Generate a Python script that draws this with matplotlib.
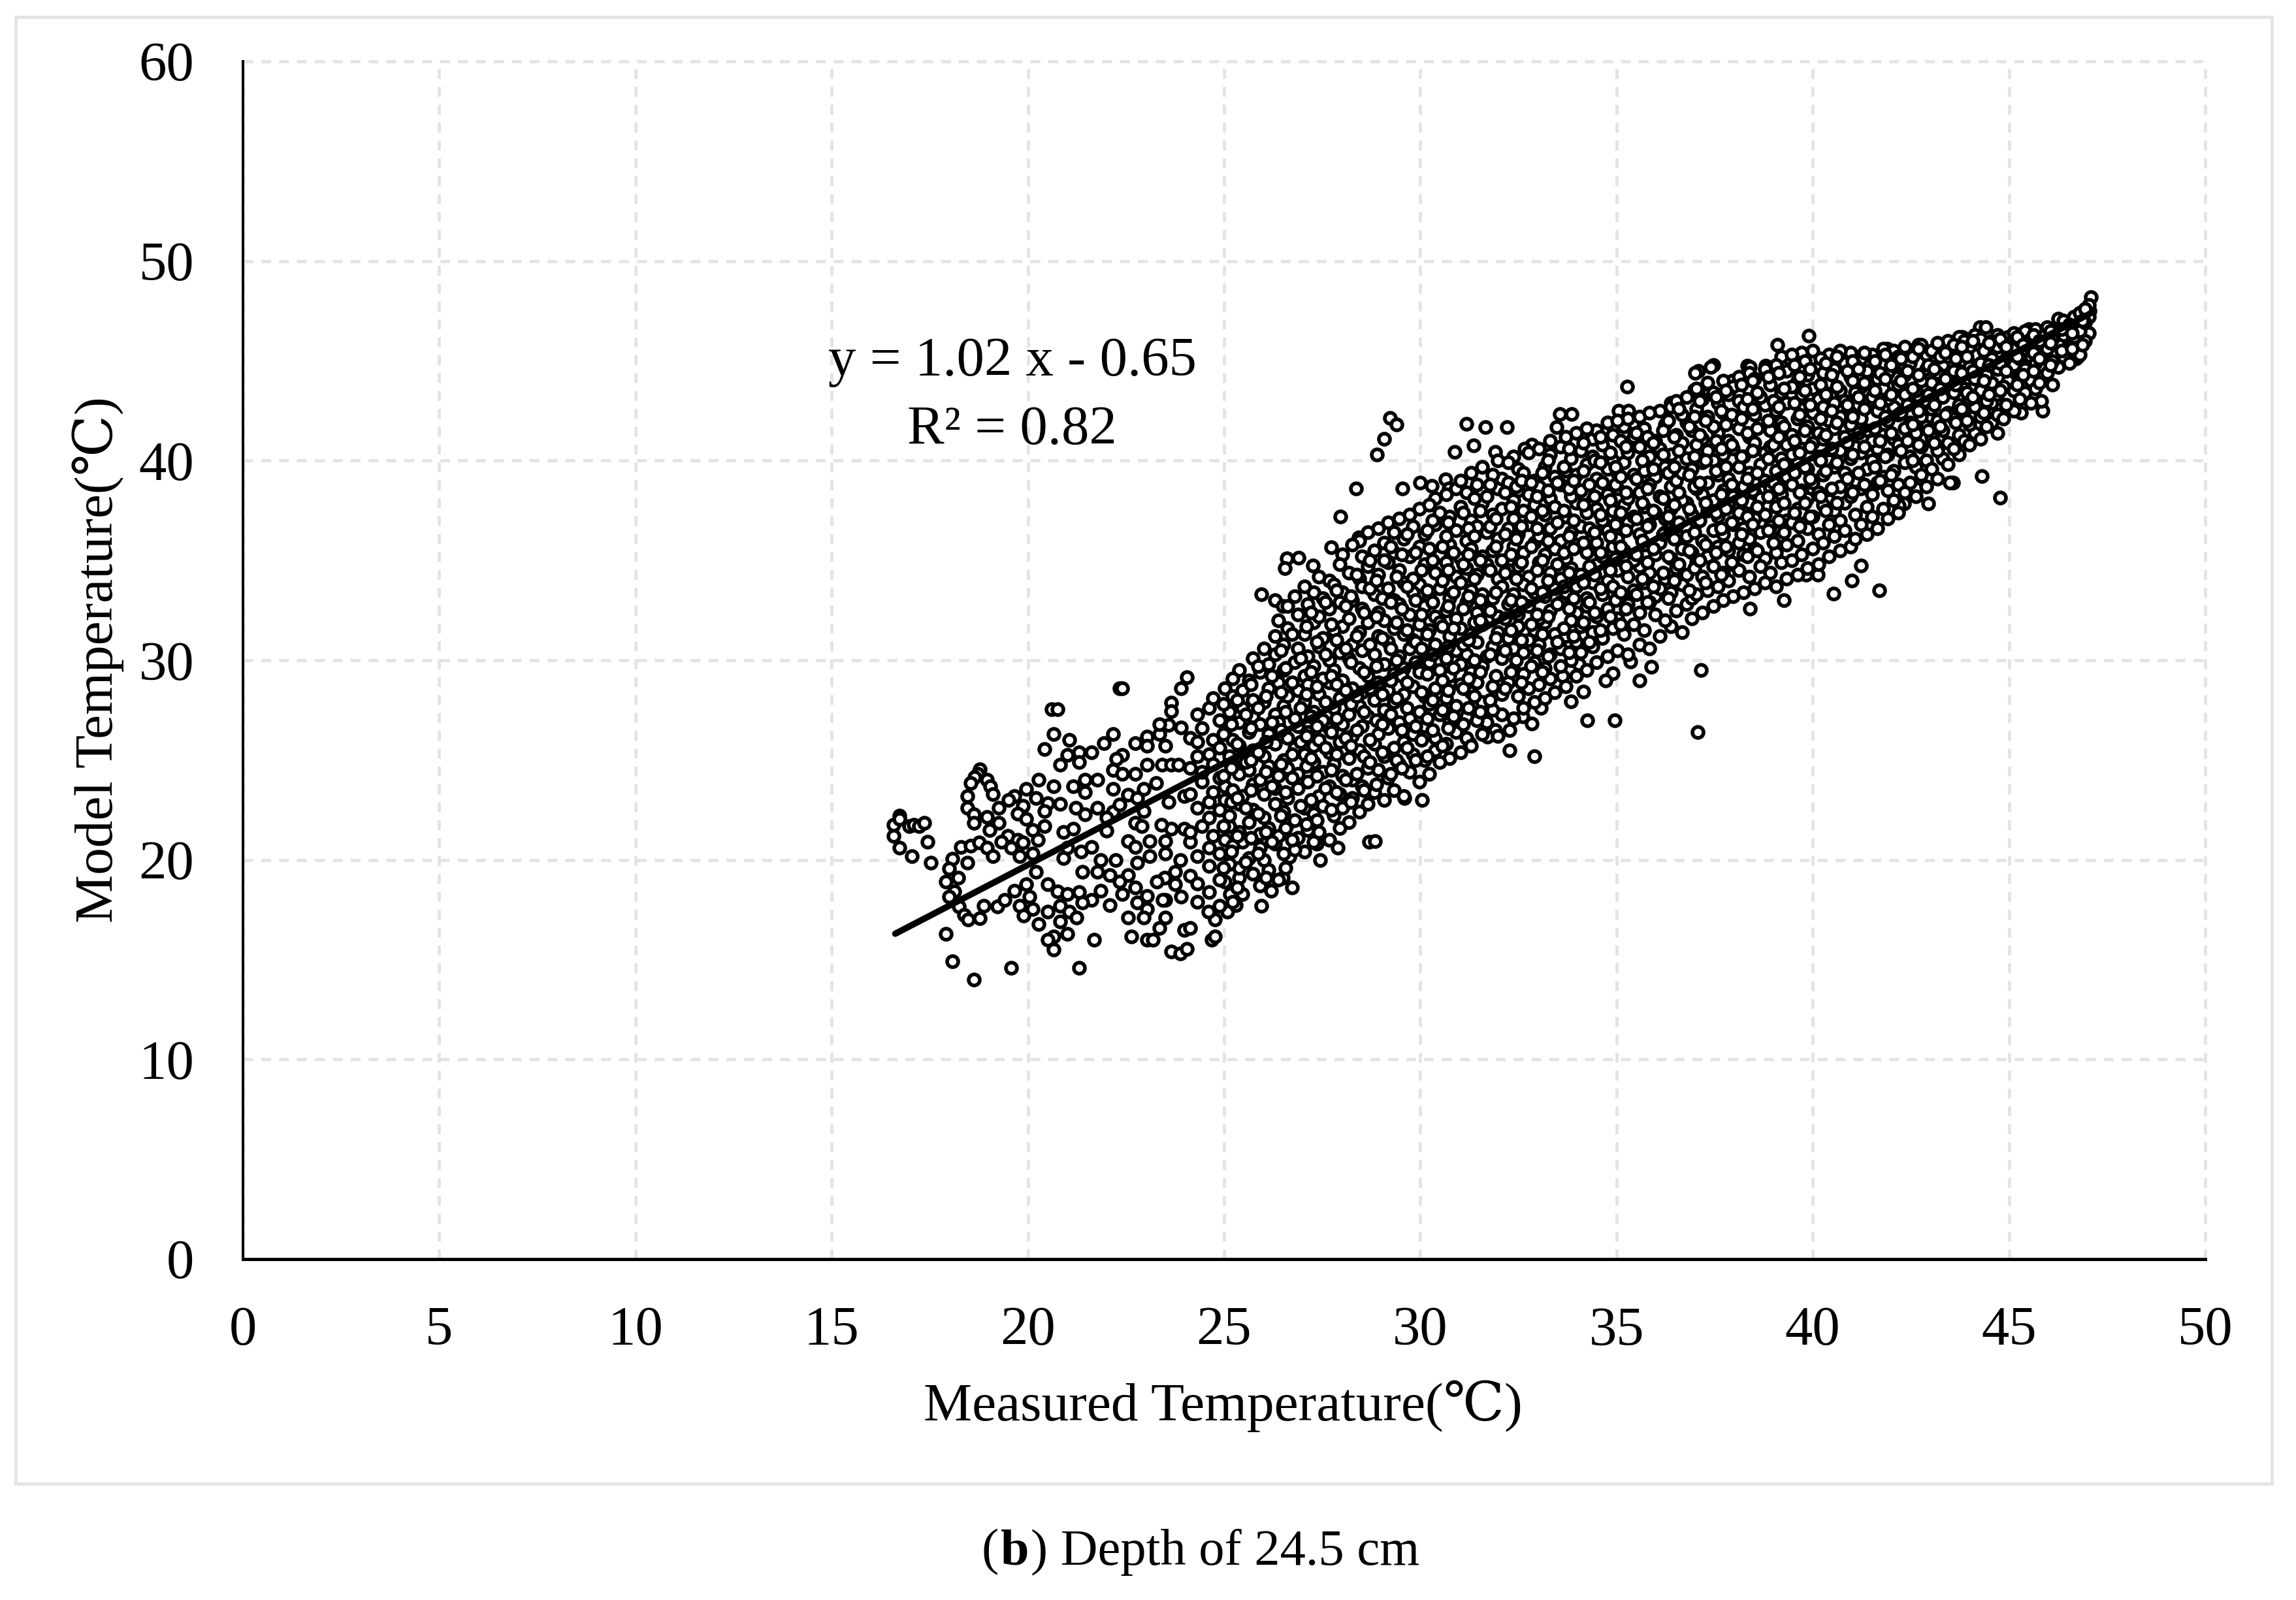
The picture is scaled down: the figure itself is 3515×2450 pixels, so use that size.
import matplotlib
matplotlib.use("Agg")
import matplotlib.pyplot as plt
from matplotlib.patches import Rectangle

x_ticks = [0, 5, 10, 15, 20, 25, 30, 35, 40, 45, 50]
y_ticks = [0, 10, 20, 30, 40, 50, 60]
trend_measured = [16.62, 47.1]
trend_model = [16.3, 47.4]

outliers_low = [
(16.58,21.75),(16.72,22.2),(16.72,22.04),(16.58,21.2),(16.73,20.6),(17.04,20.2),(16.98,21.7),(17.1,21.75),(17.23,21.7),(17.36,21.85),(17.44,20.9),(17.52,19.85),
(18.78,24.55),(18.72,24.3),(18.64,24.13),(18.54,23.84),(18.95,24.0),(19.04,23.67),(19.1,23.3),(18.46,23.2),(18.46,22.6),(18.62,22.27),(18.62,21.84),(18.95,22.15),(19.26,21.84),(19.02,21.5),(19.26,22.6),(19.66,23.2),(19.5,23),(19.96,23.55),(20.27,24.0),(20.66,23.7),(20.2,23.1),(20.5,22.85),(19.87,22.7),(20.42,22.45),(19.74,22.3),(19.96,22.05),(20.83,22.8),(20.42,21.7),(20.13,21.5),(20.9,21.4),(21.15,21.57),
(19.49,21.2),(19.74,21),(19.32,20.9),(19.57,20.6),(19.79,20.2),(20.13,20.3),(19.87,20.87),(20.26,21),
(18.3,20.65),(18.55,20.7),(18.76,20.87),(18.95,20.6),(19.1,20.2),(18.08,20.05),(18.46,19.85),(18,19.55),(18.23,19.1),(17.91,18.9),(18.13,18.43),(18,18.16),(18.25,17.67),(18.38,17.24),(18.47,17),(18.78,17.07),(18.87,17.7),(19.23,17.67),(19.41,18),(19.66,18.46),(19.96,18.78),(20.2,19.4),(20.04,18.16),(19.79,17.7),(20.13,17.55),(19.89,17.2),(20.27,16.78),(20.5,17.4),(20.5,18.78),(20.75,18.43),(20.83,17.7),(21.06,17.4),(20.83,16.9),(21.24,17.1),(21,16.3),(20.66,16.16),(20.5,16),(20.66,15.5),(21.69,16),(17.91,16.3),(18.07,14.93),(18.62,14),(19.57,14.6),(21.3,14.6),
(22.34,28.6),(22.4,28.6),(20.6,27.53),(20.75,27.53),(20.66,26.3),(21.06,26),(20.43,25.55),(21,25.24),(21.3,25.4),(21.62,25.4),(21.93,25.85),(22.17,26.3),(20.83,24.75),(21.3,24.9),(21.15,23.7),(21.45,24),(21.77,24),(21.45,23.4),(22.17,24.5),(22.17,23.55),(22.41,25.24),(22.26,25.06),(22.41,24.3),(22.73,24.3),(22.73,25.85),(23.04,26.17),(23.04,25.7),(23.35,26.3),(23.58,26.75),(23.35,26.8),(23.9,26.64),(24.05,29.14),(23.9,28.6),(23.66,27.86),(23.66,27.45),(23.5,25.7),(23.04,24.77),(23.42,24.75),(23.66,24.75),(23.83,24.75),
(21.22,22.6),(21.45,22.27),(21.77,22.6),(22.17,22.4),(22.33,22.76),(22,22.1),(22.56,23.25),(22.79,23.1),(22.96,23.55),(23.27,23.84),(22.96,22.45),(22.73,21.84),(22.9,21.7),(23.58,22.9),(23.98,23.2),(22,21.45),(21.62,20.65),(21.36,20.4),(20.9,20.1),(21,20.6),(21.86,20),(22.24,20),(21.39,19.4),(21.77,19.4),(22.09,19.24),(22.56,19.24),(22.56,20.93),(22.73,20.64),(22.79,19.85),(23.1,20.93),(23.1,20.2),(23.5,20.93),(23.5,20.3),(23.66,21.57),(23.98,21.55),(23.4,21.74),(23.89,20),(23.75,19.4),
(23.49,19.1),(23.75,18.78),(23.28,18.9),(22.73,18.63),(22.34,18.9),(21.86,18.46),(21.3,18.37),(21,18.3),(21.62,18),(21.39,17.85),(22.09,17.73),(22.41,18.3),(22.79,17.85),(23.04,18.2),(23.04,17.55),(22.56,17.1),(22.96,17.1),(23.5,17.1),(23.35,16.6),(22.64,16.16),(23.04,16),(23.19,16),(23.98,16.5),(24.13,16.6),(23.66,15.4),(23.89,15.3),(24.05,15.55),(24.68,16),(24.76,16.16),(24.76,17),(24.6,17.4),(25.08,17.4),(23.5,18),(23.43,18),(23.9,18.16),(25.15,18.3),(25.3,17.73),(25.95,17.7),(26.2,18.46),(26.73,18.6),(26.5,19.1),(26.67,20.15),(27.45,20),(27.37,20.8),(27.9,20.6),
]
outliers_high = [
(29.23,42.15),(29.39,41.8),(29.07,41.08),(28.9,40.3),(31.18,41.83),(31.66,41.67),(32.2,41.67),(30.88,40.45),(31.35,40.75),(31.9,40.45),(28.37,38.6),(29.54,38.6),(30,38.9),(30.3,38.75),(30.65,39.07),(30.72,38.6),(27.97,37.2),(27.73,35.67),(27.27,34.73),(28.43,36.15),(26.6,35.1),(26.9,35.15),(26.55,34.6),(25.95,33.3),(26.3,33),(26.5,32.7),
(35.27,43.7),(37.08,44.5),(37.47,44.8),(37.95,44),(38.34,44.77),(38.8,44.77),(39.43,45.06),(33.55,42.33),(33.86,42.33),(33.47,41.67),(35.05,42.5),(35.3,42.5),(34.9,41.7),(35.42,41.86),(36.38,42.9),(36.98,43.55),(37.33,43.36),(36.3,42),(32.84,40.8),(32.65,40.6),
(44.77,38.13),(44.3,39.22),(43.58,38.9),(42.65,38.6),(42.94,37.84),(42.32,37.84),(41.23,34.73),(41,33.98),(40.53,33.35),(41.7,33.5),(40.13,34.27),(39.83,34.27),(39.27,33),(38.4,32.57),(37.15,29.5),(37.07,26.4),(35.89,29.66),(35.58,29),(34.9,29.33),(34.72,29),(35.36,29.95),(34.26,27),(34.96,27),(32.6,27.2),(32.84,26.83),(32.28,26.5),(31.9,26.5),(31.7,26.17),(32.28,25.5),(32.9,25.2),(31.25,25.86),(33.63,29.2),(34.03,29.8),(33.83,27.93),(34.16,28.43),(33.07,27.6),(28.7,20.9),(28.85,20.95),(30.05,23),(29.6,23.1),
(47.09,48.2),(47.05,47.5),(46.8,47.3),(39.9,46.25),(39.1,45.8),(38.4,44.7),(37.4,44.7),(37,44.4),(41.2,45.2),(41.9,45.6),(42.7,45.8),(43.8,46.2),(44.25,46.7),(44.4,46.7),(45.5,46.6),(45.75,46.5),(46.4,46.8),(46.7,45.1),(46.75,45.2),(45.85,42.5),(45.3,42.4),(44.7,41.4),(44,41),(43.5,38.9),(42.3,38.7),(42.2,37.75),
]

band_rows = [
(24.14,[19.2,20.9,21.4,23.3,24.6,26.1]),(24.31,[17.9,18.8,20.2,22.6,25.2,25.9,27.3]),(24.43,[21.7,23.9,24.4,26.6]),
(24.62,[18.4,19.7,20.6,22.1,22.9,25.3,27.6]),(24.71,[21.2,23.4,24.8,26.0,28.1]),(24.88,[17.7,19.0,20.3,22.5,24.1,25.6,27.0]),
(25.01,[18.9,21.0,23.0,23.7,26.4,28.6]),(25.13,[19.8,21.7,22.2,24.9,25.2,27.4]),(25.22,[17.9,20.7,23.5,26.0,28.2,29.1]),
(25.39,[19.1,19.6,21.4,22.8,24.3,25.7,26.9,29.5]),(25.47,[18.3,20.9,23.2,25.0,27.6,28.5]),(25.63,[20.1,21.9,24.5,26.4,29.0]),
(25.74,[19.3,22.5,23.8,25.5,27.2,28.0,30.1]),(25.92,[18.7,20.6,21.3,24.0,26.8,29.4]),(26.01,[20.0,22.1,23.3,25.2,27.9,30.6]),
(26.13,[19.5,21.6,24.7,26.3,28.6,29.8]),(26.29,[20.8,22.8,23.6,25.8,27.3,30.3,31.2]),(26.38,[19.0,21.2,24.2,26.9,28.9,32.0]),
(26.52,[20.3,22.4,25.0,27.7,29.5,30.8]),(26.61,[21.8,23.1,24.6,26.1,28.2,31.6,32.7]),(26.79,[20.5,22.0,25.6,27.1,29.9,33.2]),
(26.88,[21.1,23.6,24.3,26.7,28.5,30.6,32.3]),(27.04,[20.4,22.6,25.3,27.9,29.2,31.3,33.7]),(27.13,[21.5,23.9,26.4,28.8,30.2,32.8]),
(27.28,[20.9,22.3,24.9,25.7,27.4,29.7,31.9,33.4]),(27.42,[21.4,23.2,26.0,28.3,30.7,32.2,34.2]),(27.51,[22.7,24.4,27.0,29.1,31.1,33.1]),
(27.68,[21.0,23.7,25.4,26.6,28.9,30.0,32.6,34.0]),(27.79,[22.2,24.8,27.6,29.5,31.5,33.8]),(27.94,[21.6,23.3,25.9,28.1,30.4,32.9,34.8]),
(28.02,[22.6,24.2,26.8,29.0,31.7,33.4,35.3]),(28.18,[21.9,25.1,27.3,30.1,32.1,34.4]),(28.27,[23.1,24.0,26.2,28.6,30.8,33.0,35.8]),
(28.44,[22.4,25.5,27.7,29.6,31.4,34.1,36.0]),(28.51,[23.7,26.7,28.4,30.5,32.6,33.7,35.2]),(28.66,[22.8,24.6,27.2,29.2,31.9,34.7,36.4]),
(28.82,[23.4,25.8,28.0,30.3,33.3,35.5]),(28.93,[24.5,26.3,28.9,31.2,32.4,34.3,36.6]),(29.07,[23.0,25.2,27.5,29.8,32.0,35.0,35.9]),
(29.18,[24.1,26.6,28.5,30.9,33.6,34.9,36.9]),(29.33,[23.5,25.6,27.9,29.3,31.6,33.0,35.4,36.4]),(29.46,[24.8,26.9,30.2,32.8,34.5,37.1]),
(29.57,[23.2,25.9,28.3,29.6,31.3,33.9,36.1]),(29.72,[24.4,27.1,30.6,32.3,35.2,37.3]),(29.81,[25.3,26.3,28.7,31.0,33.4,34.1,36.7]),
(29.97,[23.9,27.4,29.4,31.8,33.8,35.7,37.6]),(30.11,[25.0,26.7,28.2,30.4,32.7,34.8,36.3]),(30.22,[24.3,27.8,29.9,31.5,33.2,35.6,37.8]),
(30.38,[25.5,26.1,28.6,30.8,32.2,34.4,36.8,38.1]),(30.49,[24.9,27.3,29.5,31.9,33.6,35.3,37.4]),(30.66,[25.8,28.1,30.1,32.5,34.9,36.2,38.3]),
(30.74,[25.1,26.9,29.2,31.2,33.1,35.8,37.2]),(30.91,[26.4,27.7,30.5,32.1,34.2,36.5,38.6]),(31.03,[25.4,28.8,29.8,31.6,33.9,35.1,37.7,39.0]),
(31.17,[26.1,27.2,30.3,32.9,34.6,36.0,38.4]),(31.29,[25.7,28.4,29.4,31.3,33.5,35.6,37.0,39.4]),(31.44,[27.0,28.9,30.9,32.4,34.3,36.7,38.8]),
(31.58,[26.3,27.9,29.7,31.8,33.3,35.2,37.9,39.7]),(31.69,[26.9,30.2,32.6,34.8,36.4,38.2]),(31.84,[27.5,28.7,30.7,33.1,35.5,37.3,39.3]),
(31.97,[26.2,29.0,31.4,32.2,34.1,36.1,38.6,40.0]),(32.08,[27.3,28.3,30.1,33.7,35.0,37.6,39.1]),(32.24,[28.9,31.1,32.8,34.5,36.6,38.9,39.9]),
(32.37,[27.1,29.5,30.6,33.3,35.7,37.1,38.0,40.2]),(32.49,[28.2,31.7,32.3,34.7,36.3,38.5,39.6]),(32.63,[27.6,29.3,30.4,33.8,35.4,37.5,39.4]),
(32.76,[28.6,31.0,32.7,34.2,36.8,38.3,40.4]),(32.91,[27.9,29.9,31.5,33.4,35.9,37.8,39.0]),(33.02,[28.8,30.8,32.1,34.9,36.2,38.7,40.6]),
(33.17,[28.1,29.6,31.9,33.2,35.3,37.3,39.7]),(33.31,[29.1,30.3,32.5,34.4,36.6,38.1,40.3,41.0]),(33.42,[28.4,31.3,33.6,35.6,37.7,39.2]),
(33.58,[29.7,30.6,32.9,34.1,36.0,38.8,40.7]),(33.71,[28.7,31.2,33.4,35.1,37.2,39.5,41.2]),(33.83,[30.0,32.0,34.6,36.4,38.2,40.1]),
(33.97,[29.2,30.9,32.4,33.7,35.8,37.9,39.3,41.4]),(34.09,[30.4,31.7,34.3,36.7,38.5,40.5]),(34.23,[29.5,32.7,33.1,35.4,37.4,39.8,41.6]),
(34.38,[30.7,31.4,33.9,36.2,38.0,40.2,41.1]),(34.49,[29.9,32.2,34.8,35.9,37.6,39.1,41.5]),(34.64,[31.1,33.3,35.2,37.0,38.9,40.8]),
(34.77,[30.2,32.6,34.0,36.5,38.3,39.6,41.9]),(34.91,[31.6,33.7,35.7,37.5,40.0,41.3]),(35.02,[30.5,32.1,34.5,36.1,38.6,39.4,42.0]),
(35.18,[31.3,33.0,35.5,37.8,39.9,41.7]),(35.29,[30.3,32.8,34.2,36.9,38.1,40.4,42.1]),(35.44,[31.8,33.5,35.0,37.2,39.3,41.2]),
(35.59,[30.8,32.4,34.7,36.3,38.4,40.7,42.2]),(35.71,[31.5,33.9,35.8,37.7,39.5,41.6]),(35.84,[30.6,32.9,34.4,36.8,38.8,40.2,42.4]),
(35.98,[32.3,33.2,35.3,37.4,39.2,41.0]),(36.11,[31.2,33.6,35.9,38.2,40.6,42.5]),(36.24,[32.0,34.1,36.4,37.1,39.7,41.8]),
(36.39,[31.7,33.4,35.1,37.6,38.7,40.3,42.7]),(36.51,[32.5,34.6,36.7,39.0,41.3,43.0]),(36.66,[31.4,33.8,35.6,38.0,39.4,40.9,42.3]),
(36.79,[32.8,34.3,36.2,37.9,40.1,41.9,43.2]),(36.92,[32.1,33.1,35.4,37.3,39.6,41.5]),(37.03,[33.3,34.9,36.9,38.6,40.8,42.6,43.6]),
(37.19,[32.4,34.2,36.0,38.3,39.9,41.1,43.1]),(37.31,[33.5,35.2,37.5,38.9,40.5,42.2,43.9]),(37.46,[32.7,34.7,36.5,38.0,40.0,41.7,43.4]),
(37.59,[33.7,35.7,37.2,39.3,41.4,42.9]),(37.72,[33.0,34.4,36.3,38.5,40.3,42.4,44.0]),(37.85,[34.0,35.5,37.8,39.1,41.0,43.3]),
(37.97,[33.2,34.8,36.8,38.2,40.6,42.0,43.7]),(38.12,[34.5,35.9,37.4,39.7,41.6,43.0,44.2]),(38.24,[33.4,35.3,36.6,38.7,40.2,42.7]),
(38.39,[34.2,36.1,37.9,39.4,41.2,43.5,44.4]),(38.51,[33.6,35.6,37.1,38.4,40.9,42.3,44.1]),(38.66,[34.7,36.4,38.1,39.8,41.8,43.2]),
(38.78,[33.9,35.1,37.3,39.0,40.4,42.8,44.6]),(38.91,[34.4,36.7,38.6,40.7,41.5,43.8]),(39.06,[33.7,35.4,37.7,39.5,41.0,42.5,44.8]),
(39.19,[34.9,36.2,38.3,40.1,41.9,43.4,45.2]),(39.33,[34.1,35.8,37.0,39.2,40.8,42.9,44.5]),(39.47,[35.0,36.9,38.8,40.3,41.3,43.7,45.3]),
(39.61,[34.3,36.0,37.6,39.9,42.1,44.0]),(39.72,[35.3,37.4,38.5,40.6,42.6,43.3,45.4]),(39.86,[34.6,36.6,38.1,39.6,41.7,44.3]),
(39.99,[35.6,37.2,38.9,40.9,42.4,43.6,45.5]),(40.14,[34.8,36.3,38.4,40.2,41.4,43.1,44.7]),(40.27,[35.9,37.8,39.3,41.1,42.7,44.4]),
(40.41,[35.2,36.8,38.0,40.0,42.0,43.9,45.3]),(40.54,[36.2,37.5,39.7,41.6,42.9,44.6]),(40.69,[35.5,37.0,38.7,40.5,42.2,43.5,45.5]),
(40.81,[36.5,37.9,39.4,41.2,43.0,44.9]),(40.96,[35.7,38.2,40.1,41.8,42.4,44.2,45.4]),(41.08,[36.1,37.3,39.0,40.7,43.4,44.8]),
(41.23,[36.8,38.6,40.4,42.1,43.7,45.1]),(41.37,[36.3,37.7,39.6,41.5,42.8,44.5]),(41.51,[37.2,38.3,40.0,41.0,43.2,45.3]),
(41.64,[36.6,38.9,40.6,42.5,44.1]),(41.79,[37.6,39.2,41.3,43.6,44.9,45.6]),(41.91,[37.1,38.5,40.3,42.0,43.1,44.4]),
(42.06,[38.0,39.5,41.1,42.7,44.7,45.5]),(42.18,[37.4,38.8,40.8,42.3,43.8,45.2]),(42.34,[38.4,39.9,41.6,43.3,44.3,45.7]),
(42.47,[38.9,40.2,41.9,42.9,44.9]),(42.62,[38.2,39.7,41.4,43.5,45.4]),(42.76,[39.3,40.7,42.2,44.0,45.8]),
(42.89,[38.7,40.0,41.7,43.0,44.6,45.3]),(43.03,[39.6,41.2,42.6,43.9,45.5]),(43.17,[39.1,40.5,42.0,44.4,45.9]),
(43.31,[40.1,41.5,43.2,44.8,45.6]),(43.44,[39.8,40.9,42.4,43.7,45.2,46.0]),(43.59,[40.6,42.1,43.4,44.5,45.8]),
(43.72,[40.3,41.3,42.8,44.2,45.4,46.2]),(43.86,[41.0,42.5,43.6,45.0,46.0]),(43.99,[40.8,41.8,43.1,44.7,45.7]),
(44.13,[41.4,42.7,44.1,45.3,46.3]),(44.28,[41.1,42.2,43.5,44.9,46.1]),(44.42,[41.7,43.0,44.3,45.6]),
(44.56,[41.9,42.9,43.9,45.1,46.0]),(44.71,[42.3,43.3,44.6,45.7,46.3]),(44.85,[42.1,43.7,45.0,45.9]),
(44.98,[42.7,44.0,45.3,46.2]),(45.13,[42.5,43.5,44.8,45.6,46.4]),(45.27,[43.1,44.3,45.1,46.0]),
(45.41,[43.4,44.6,45.5,46.5]),(45.56,[42.9,44.0,45.2,46.1]),(45.68,[43.6,44.9,45.8,46.6]),
(45.83,[43.0,44.2,45.4,46.3]),(45.97,[44.4,45.6,46.7]),(46.11,[43.8,45.0,46.1]),
(46.26,[44.7,45.9,46.6,47.1]),(46.39,[45.2,46.3,47.0]),(46.54,[44.9,45.7,46.8]),
(46.66,[45.4,46.2,47.2]),(46.81,[45.3,46.5,47.4]),(46.93,[46.0,46.9,47.6]),(47.04,[46.4,47.2,47.8]),
]
core_rows = [
(24.98,[19.6,21.7,24.2,26.3,27.8]),(25.18,[20.4,22.9,24.6,26.8]),(25.33,[18.6,21.2,23.1,25.8,28.0]),(25.55,[19.9,22.6,24.9,27.3]),
(25.69,[21.1,23.5,25.0,26.6,28.8]),(25.86,[20.3,22.3,25.4,27.6,29.7]),(26.07,[19.1,21.4,24.4,25.9,28.2]),(26.21,[20.9,23.7,26.9,29.2]),
(26.44,[22.2,24.8,26.5,28.4,30.5]),(26.57,[19.6,21.6,23.4,27.4,29.6]),(26.73,[21.0,24.1,25.3,28.9,31.3]),(26.94,[22.7,25.9,27.6,30.1]),
(27.09,[21.8,24.7,26.2,28.3,31.7]),(27.21,[23.0,25.1,27.2,29.4,32.4]),(27.36,[22.0,24.2,26.7,28.7,30.9]),(27.58,[23.6,25.6,27.9,30.3,32.9]),
(27.73,[22.5,24.5,26.4,29.2,31.8]),(27.87,[23.4,25.3,27.1,28.8,31.0,33.5]),(28.09,[24.0,26.1,28.5,30.6,32.7]),(28.23,[22.9,25.7,27.8,29.9,33.2]),
(28.38,[24.3,26.5,28.2,31.2,34.3]),(28.57,[23.5,25.2,27.4,29.4,32.4]),(28.72,[24.9,26.0,28.6,30.8,33.6,35.0]),(28.88,[23.8,27.0,29.7,32.2,34.0]),
(29.02,[25.4,26.8,28.3,31.1,33.1]),(29.24,[24.3,27.3,29.0,30.6,32.9,35.7]),(29.39,[25.0,28.1,30.0,31.9,34.2]),(29.52,[24.6,26.5,29.2,32.6,35.3]),
(29.66,[25.6,27.6,28.9,31.5,33.7,36.3]),(29.88,[25.0,26.7,29.9,30.9,33.0,35.4]),(30.03,[26.0,28.4,30.6,32.3,34.5]),(30.17,[25.2,27.1,29.3,31.3,33.5,36.5]),
(30.31,[26.5,28.0,30.3,32.9,35.0,37.0]),(30.56,[25.7,27.5,29.0,31.7,34.0,35.7]),(30.71,[26.6,28.5,30.7,32.7,34.5,36.9]),(30.84,[27.2,29.6,31.6,33.4,35.4]),
(31.09,[26.8,28.6,30.8,32.6,34.8,37.4]),(31.23,[27.6,29.1,31.0,33.2,35.3,36.6]),(31.37,[28.2,30.0,31.9,34.1,36.2,38.1]),(31.52,[27.4,29.4,32.0,33.0,35.0,37.5]),
(31.78,[28.0,30.3,32.5,34.5,36.7,38.8]),(31.92,[29.2,31.1,33.4,35.7,37.1]),(32.16,[28.6,30.5,32.1,34.4,36.3,38.4]),(32.31,[29.4,31.5,33.0,35.3,37.7]),
(32.44,[30.0,32.5,34.1,36.1,38.7]),(32.57,[28.9,31.0,32.9,34.9,36.7,39.0]),(32.83,[29.7,31.8,33.6,35.7,37.2,38.9]),(32.98,[30.5,32.3,34.5,36.6,38.2]),
(33.11,[29.4,31.3,33.4,35.0,37.5,39.4]),(33.26,[30.2,32.2,34.0,36.0,38.5,40.0]),(33.49,[30.9,32.8,34.8,36.9,38.9]),(33.65,[31.6,33.7,35.4,37.5,39.7]),
(33.78,[30.4,32.6,34.4,36.2,38.6,40.6]),(33.91,[31.2,33.1,35.6,37.0,39.0]),(34.15,[31.9,33.9,35.9,37.8,39.5,40.9]),(34.31,[30.9,32.9,34.7,36.6,38.8]),
(34.44,[32.4,34.3,36.4,38.2,40.0]),(34.58,[31.5,33.6,35.4,37.3,39.9,41.2]),(34.83,[32.2,34.5,36.2,38.0,40.4]),(34.97,[33.0,35.1,36.8,38.8,39.7]),
(35.11,[31.8,33.4,35.7,37.4,39.2,41.0]),(35.24,[32.6,34.7,36.5,38.4,40.7]),(35.51,[33.3,35.3,37.1,39.1,41.4]),(35.66,[34.1,36.0,37.9,40.0]),
(35.79,[32.9,34.9,36.7,38.6,41.2]),(35.93,[33.7,35.6,37.5,39.6,40.9]),(36.18,[34.4,36.3,38.1,40.3,41.5]),(36.32,[33.1,35.2,37.2,39.4,42.0]),
(36.47,[34.0,36.1,37.8,39.7,41.2]),(36.59,[34.8,36.9,38.4,40.5,42.6]),(36.85,[33.5,35.5,37.6,39.3,41.7]),(36.99,[34.6,36.4,38.7,40.2,42.2]),
(37.12,[35.0,37.0,38.9,41.3,43.0]),(37.26,[33.9,35.8,37.9,40.0,42.0]),(37.53,[35.4,37.4,39.5,41.0,43.2]),(37.66,[34.3,36.6,38.3,40.6,42.5]),
(37.79,[35.7,37.6,39.7,41.8,43.5]),(37.93,[34.9,36.9,38.8,40.8,42.3]),(38.19,[36.3,38.0,40.2,42.1,43.8]),(38.33,[35.2,37.2,39.1,41.4,43.1]),
(38.46,[36.8,38.5,40.5,42.6,44.0]),(38.59,[35.5,37.7,39.4,41.6,43.4]),(38.86,[36.5,38.2,40.1,42.0,44.2]),(38.99,[35.9,38.9,40.8,43.0]),
(39.13,[37.0,38.6,41.2,42.7,44.4]),(39.27,[36.4,37.9,39.8,41.7,43.6]),(39.53,[37.4,39.4,41.0,42.9,44.8]),(39.67,[36.7,38.4,40.4,42.3,44.2]),
(39.79,[37.9,39.7,41.5,43.5,45.0]),(39.93,[37.2,39.1,40.7,42.8,44.6]),(40.19,[38.2,40.0,42.1,43.8,45.1]),(40.33,[37.5,39.5,41.3,43.3,44.9]),
(40.48,[38.6,40.6,42.5,44.3]),(40.62,[37.9,39.9,41.9,43.7,45.2]),(40.88,[39.1,40.9,42.8,44.5]),(41.02,[38.4,40.3,42.2,44.0,45.0]),
(41.16,[39.4,41.4,43.2,44.6]),(41.31,[38.8,40.7,42.6,43.9,45.4]),(41.57,[39.7,41.6,43.5,45.0]),(41.71,[39.0,41.0,42.9,44.4]),
(41.85,[40.2,42.2,44.1,45.3]),(41.99,[39.3,41.4,43.3,44.8]),(42.25,[40.5,42.4,44.0,45.1]),(42.41,[41.0,42.8,44.5]),
(42.55,[40.0,41.8,43.6,45.2]),(42.69,[40.8,42.5,44.3,45.6]),(42.95,[41.5,43.3,44.8]),(43.09,[40.9,42.8,44.6]),
(43.24,[41.7,43.6,45.2]),(43.38,[42.3,44.1,45.4]),(43.64,[41.9,43.8,45.1]),(43.79,[42.6,44.4,45.7]),
(43.93,[42.0,43.4,45.2]),(44.07,[43.2,44.5,46.0]),(44.35,[42.4,44.0,45.5]),(44.49,[43.3,44.8,45.9]),
(44.78,[43.5,44.9,46.1]),(44.93,[42.8,44.5,45.7]),(45.21,[43.8,45.2,46.2]),(45.35,[44.3,45.8]),
(45.62,[44.5,45.4,46.3]),(45.77,[43.9,45.1,46.0]),(46.05,[44.8,45.9,46.5]),(46.33,[45.5,46.6]),(46.6,[45.6,46.4]),(46.87,[45.8,47.0]),
]
band_measured = [r[0] for r in band_rows]
band_model = [r[1] for r in band_rows]
core_measured = [r[0] for r in core_rows]
core_model = [r[1] for r in core_rows]

plt.rcParams['font.family'] = ['Liberation Serif', 'DejaVu Serif', 'DejaVu Sans']
W, H = 3515, 2450
fig = plt.figure(figsize=(W/100, H/100), dpi=100, facecolor='white')
fig.patches.append(Rectangle((24/W, 1-2272/H), (3478-24)/W, (2272-26)/H, transform=fig.transFigure,
                             fill=False, edgecolor='#e4e4e4', linewidth=3.6))
ax = fig.add_axes([372/W, 1-1928/H, (3376-372)/W, (1928-94)/H])

measured = [p[0] for p in outliers_low + outliers_high]
model = [p[1] for p in outliers_low + outliers_high]
order = list(range(0, len(band_measured), 3)) + list(range(1, len(band_measured), 3)) + list(range(2, len(band_measured), 3))
for i in order:
    for my in band_model[i]:
        measured.append(band_measured[i])
        model.append(my)
for i in range(len(core_measured)):
    for my in core_model[i]:
        measured.append(core_measured[i])
        model.append(my)

ax.set_xlim(0, 50)
ax.set_ylim(0, 60)
ax.set_xticks(x_ticks)
ax.set_yticks(y_ticks)
ax.grid(True, color='#e3e3e3', linestyle=(0, (3.2, 2.6)), linewidth=3.4, clip_on=False, zorder=1)
ax.set_axisbelow(True)
for s in ('top', 'right'):
    ax.spines[s].set_visible(False)
ax.spines['left'].set_linewidth(2.9)
ax.spines['bottom'].set_linewidth(3.6)
ax.tick_params(length=0, labelsize=61)
ax.tick_params(axis='x', pad=52)
ax.tick_params(axis='y', pad=54)
ax.scatter(measured, model, s=150, facecolor='white', edgecolor='black', linewidth=4.0, zorder=3)
ax.plot(trend_measured, trend_model, color='black', linewidth=7, solid_capstyle='round', zorder=4)

fig.text(1872/W, 1-2153/H, 'Measured Temperature(℃)', fontsize=60, ha='center', va='center')
fig.text(150/W, 1-1010/H, 'Model Temperature(℃)', fontsize=60, ha='center', va='center', rotation=90)
ax.text(19.6, 44.95, 'y = 1.02 x - 0.65', fontsize=61, ha='center', va='center')
ax.text(19.6, 41.5, 'R² = 0.82', fontsize=61, ha='center', va='center')

renderer = fig.canvas.get_renderer()
cursor = 1502
for txt, weight in (('(', 'normal'), ('b', 'bold'), (') Depth of 24.5 cm', 'normal')):
    t = fig.text(cursor/W, 1-2368/H, txt, fontsize=56.5, ha='left', va='center_baseline', fontweight=weight)
    cursor = t.get_window_extent(renderer).x1 + 3
fig.savefig('out.png', dpi=100)
